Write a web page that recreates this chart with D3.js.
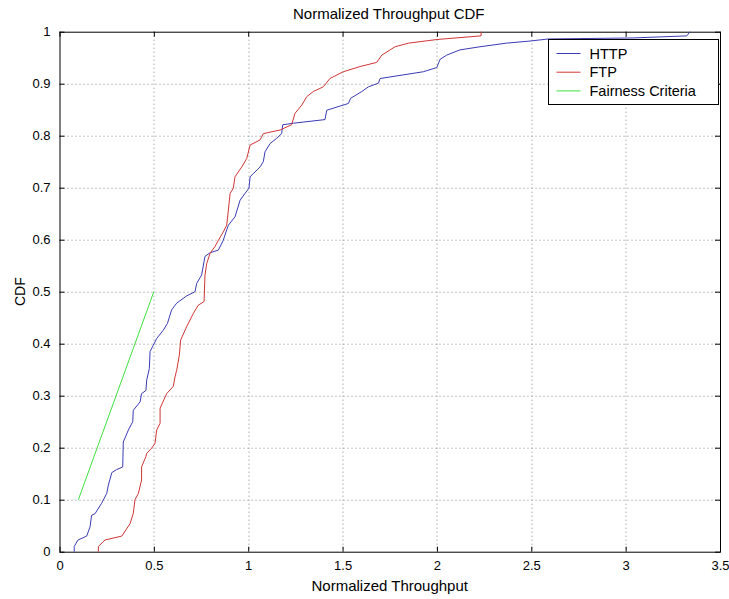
<html>
<head>
<style>
body { margin: 0; background: #fff; }
svg { font-family: "Liberation Sans", Arial, sans-serif; }
.grid line { stroke: #888; stroke-width: 1; stroke-dasharray: 1,3; }
.frame { fill: none; stroke: #000; stroke-width: 1; }
.tick-label { font-size: 13px; fill: #000; }
.legend text { font-size: 14.5px; }
</style>
</head>
<body>
<div id="chart"></div>
<script src="https://d3js.org/d3.v7.min.js"></script>
<script>

// values
const httpThroughput = [0.078,0.078,0.098,0.144,0.162,0.17,0.188,0.223,0.25,0.259,0.277,0.303,0.335,0.338,0.365,0.388,0.391,0.427,0.435,0.458,0.462,0.476,0.48,0.497,0.515,0.55,0.572,0.594,0.621,0.674,0.718,0.727,0.753,0.771,0.798,0.842,0.868,0.886,0.895,0.93,0.957,0.983,1.004,1.01,1.063,1.08,1.089,1.116,1.151,1.177,1.183,1.239,1.407,1.416,1.531,1.543,1.602,1.637,1.69,1.699,1.928,1.999,2.017,2.052,2.122,2.228,2.369,2.493,2.59,3.04,3.324,3.341];
const httpCdf = [0,0.01,0.0225,0.03,0.048,0.07,0.073,0.093,0.112,0.128,0.152,0.158,0.163,0.211,0.234,0.25,0.272,0.288,0.304,0.31,0.33,0.352,0.385,0.397,0.41,0.426,0.439,0.465,0.478,0.492,0.5,0.516,0.532,0.568,0.575,0.58,0.599,0.619,0.628,0.644,0.676,0.689,0.699,0.721,0.74,0.75,0.769,0.785,0.795,0.804,0.821,0.824,0.831,0.849,0.862,0.872,0.885,0.894,0.901,0.91,0.923,0.931,0.947,0.955,0.965,0.971,0.978,0.982,0.986,0.988,0.992,1.0];

const ftpThroughput = [0.206,0.206,0.241,0.33,0.374,0.391,0.4,0.418,0.435,0.435,0.458,0.462,0.488,0.506,0.515,0.533,0.533,0.568,0.603,0.612,0.621,0.635,0.642,0.674,0.709,0.735,0.766,0.771,0.78,0.798,0.824,0.842,0.868,0.886,0.895,0.904,0.921,0.93,0.966,0.992,1.01,1.063,1.08,1.169,1.23,1.248,1.284,1.31,1.345,1.398,1.433,1.504,1.593,1.681,1.708,1.778,1.85,2.0,2.234,2.234];
const ftpCdf = [0,0.01,0.0225,0.03,0.054,0.074,0.1,0.112,0.138,0.163,0.183,0.189,0.199,0.208,0.234,0.247,0.276,0.304,0.318,0.336,0.349,0.378,0.407,0.433,0.458,0.474,0.481,0.532,0.554,0.574,0.587,0.599,0.615,0.628,0.657,0.689,0.699,0.721,0.74,0.756,0.782,0.792,0.804,0.811,0.821,0.843,0.859,0.875,0.885,0.894,0.91,0.923,0.933,0.941,0.955,0.971,0.978,0.985,0.992,1.0];

const fairThroughput = [0.1, 0.5];
const fairCdf = [0.1, 0.5];

const xTicks = [0, 0.5, 1, 1.5, 2, 2.5, 3, 3.5];
const yTicks = [0, 0.1, 0.2, 0.3, 0.4, 0.5, 0.6, 0.7, 0.8, 0.9, 1];

const seriesNames = ['HTTP', 'FTP', 'Fairness Criteria'];
const seriesColors = ['#3b3bb5', '#d03535', '#3ee03e'];

const width = 729, height = 599;
const margin = {top: 31.7, right: 9, bottom: 47.3, left: 59.5};
const w = width - margin.left - margin.right;
const h = height - margin.top - margin.bottom;

const svg = d3.select('#chart').append('svg')
	.attr('width', width)
	.attr('height', height);

const g = svg.append('g')
	.attr('transform', `translate(${margin.left},${margin.top})`);

const x = d3.scaleLinear().domain([0, 3.5]).range([0, w]);
const y = d3.scaleLinear().domain([0, 1]).range([h, 0]);

// dotted grid
const grid = g.append('g').attr('class', 'grid');
grid.selectAll('.vx').data(xTicks.slice(1, -1)).enter().append('line')
	.attr('x1', d => Math.round(x(d)) + 0.5).attr('x2', d => Math.round(x(d)) + 0.5)
	.attr('y1', 0).attr('y2', h);
grid.selectAll('.hy').data(yTicks.slice(1, -1)).enter().append('line')
	.attr('y1', d => Math.round(y(d)) + 0.5).attr('y2', d => Math.round(y(d)) + 0.5)
	.attr('x1', 0).attr('x2', w);

// axes, matlab style: ticks inward on all four sides
const axisStyle = sel => {
	sel.select('.domain').remove();
	sel.selectAll('.tick line').attr('stroke', '#000');
	sel.selectAll('.tick text').attr('class', 'tick-label');
};
g.append('g').attr('transform', `translate(0,${h})`)
	.call(d3.axisBottom(x).tickValues(xTicks).tickFormat(d3.format('')).tickSizeInner(-5).tickPadding(9))
	.call(axisStyle)
	.attr('font-family', null).attr('font-size', null);
g.append('g')
	.call(d3.axisTop(x).tickValues(xTicks).tickFormat('').tickSizeInner(-5))
	.call(axisStyle);
g.append('g')
	.call(d3.axisLeft(y).tickValues(yTicks).tickFormat(d3.format('')).tickSizeInner(-5).tickPadding(9))
	.call(axisStyle)
	.attr('font-family', null).attr('font-size', null);
g.append('g').attr('transform', `translate(${w},0)`)
	.call(d3.axisRight(y).tickValues(yTicks).tickFormat('').tickSizeInner(-5))
	.call(axisStyle);

g.append('rect').attr('class', 'frame')
	.attr('x', 0.5).attr('y', 0.5).attr('width', w).attr('height', h);

// curves
const line = d3.line().x(d => x(d[0])).y(d => y(d[1]));
const series = [
	d3.zip(httpThroughput, httpCdf),
	d3.zip(ftpThroughput, ftpCdf),
	d3.zip(fairThroughput, fairCdf)
];
g.selectAll('.curve').data(series).enter().append('path')
	.attr('class', 'curve')
	.attr('fill', 'none')
	.attr('stroke', (d, i) => seriesColors[i])
	.attr('stroke-width', 1)
	.attr('d', line);

// titles
svg.append('text')
	.attr('x', margin.left + w / 2 - 1).attr('y', 19)
	.attr('text-anchor', 'middle').attr('font-size', 15)
	.text('Normalized Throughput CDF');
svg.append('text')
	.attr('x', margin.left + w / 2).attr('y', 591)
	.attr('text-anchor', 'middle').attr('font-size', 15)
	.text('Normalized Throughput');
svg.append('text')
	.attr('transform', `translate(25,${margin.top + h / 2}) rotate(-90)`)
	.attr('text-anchor', 'middle').attr('font-size', 14)
	.text('CDF');

// legend
const legend = svg.append('g').attr('class', 'legend')
	.attr('transform', 'translate(548.5,39.5)');
legend.append('rect')
	.attr('width', 170).attr('height', 65)
	.attr('fill', '#fff').attr('stroke', '#000');
const items = legend.selectAll('.item').data(seriesNames).enter().append('g')
	.attr('transform', (d, i) => `translate(0,${14 + i * 18.7})`);
items.append('line')
	.attr('x1', 8).attr('x2', 32)
	.attr('stroke', (d, i) => seriesColors[i]);
items.append('text')
	.attr('x', 41).attr('dy', '0.35em')
	.text(d => d);

</script>
</body>
</html>
